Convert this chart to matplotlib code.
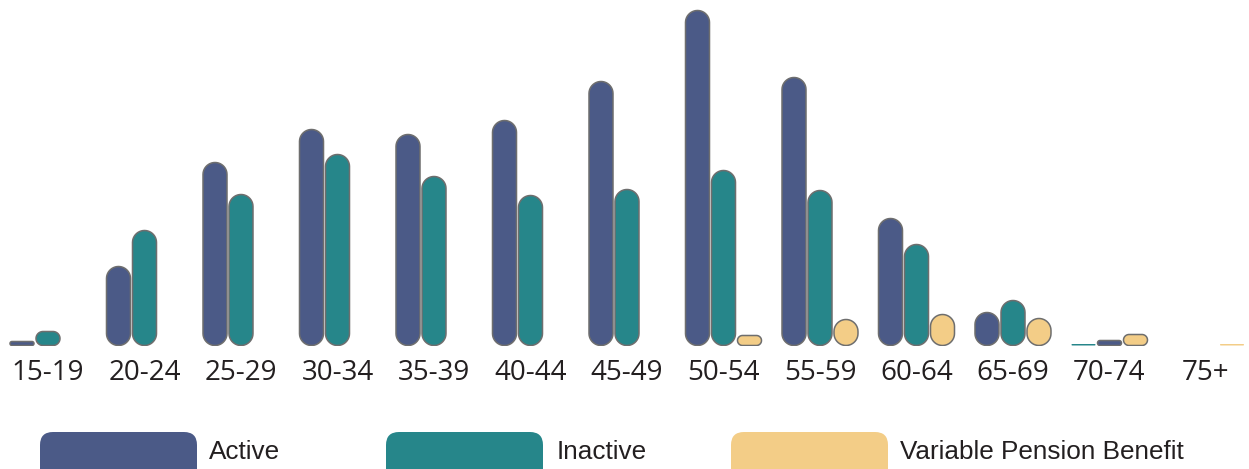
import numpy as np
import matplotlib.pyplot as plt
from matplotlib.patches import FancyBboxPatch, Polygon

# Members by age band
age_groups = ['15-19', '20-24', '25-29', '30-34', '35-39', '40-44', '45-49',
              '50-54', '55-59', '60-64', '65-69', '70-74', '75+']
active = [40, 790, 1830, 2160, 2110, 2250, 2640, 3350, 2680, 1270, 330, 50, 0]
inactive = [140, 1150, 1510, 1910, 1690, 1500, 1560, 1750, 1550, 1010, 450, 15, 0]
variable_pension = [0, 0, 0, 0, 0, 0, 0, 100, 260, 310, 270, 110, 15]

# slot of each bar inside its group (70-74 lists inactive first)
active_slot = [0] * 11 + [1, 0]
inactive_slot = [1] * 11 + [0, 1]
pension_slot = [2] * 13

series = [
    ('Active', active, active_slot, '#4b5a87'),
    ('Inactive', inactive, inactive_slot, '#26868a'),
    ('Variable Pension Benefit', variable_pension, pension_slot, '#f3cd87'),
]

W, H = 1249, 469
fig = plt.figure(figsize=(W / 100, H / 100), dpi=100)

# legend layer in pixel coordinates
lg = fig.add_axes([0, 0, 1, 1])
lg.set_xlim(0, W)
lg.set_ylim(H, 0)
lg.axis('off')
legend_x = [40, 386, 731]
text_x = [209, 557, 900]
for (name, _, _, color), px, tx in zip(series, legend_x, text_x):
    lg.add_patch(FancyBboxPatch((px, 432), 157, 50,
                                boxstyle="round,pad=0,rounding_size=13",
                                facecolor=color, edgecolor='none'))
    lg.text(tx, 452, name, fontsize=18.8, family='Liberation Sans',
            color='#231f20', va='center', ha='left')

# bar area
baseline_px = 345.5
ax = fig.add_axes([0, (H - baseline_px) / H, 1, baseline_px / H])
ax.set_facecolor('none')
step = 96.5
x0 = -48 / step
ax.set_xlim(x0, x0 + W / step)
ax.set_ylim(0, baseline_px * 10)
for s in ax.spines.values():
    s.set_visible(False)
ax.set_yticks([])
ax.set_xticks(range(len(age_groups)))
ax.set_xticklabels(age_groups, fontsize=20, family='Open Sans', color='#231f20')
ax.tick_params(axis='x', length=0, pad=10)

bar_w = 24 / step
offset = 26 / step
sx = step      # pixels per x unit
sy = 0.1       # pixels per value unit


def pill(xc, v):
    """Rounded bar outline in data units, true circular ends."""
    w_px, h_px = bar_w * sx, v * sy
    r = min(w_px, h_px) / 2
    t = np.linspace(0, np.pi / 2, 12)
    corners = [((w_px / 2 - r), (h_px - r), 0),
               (-(w_px / 2 - r), (h_px - r), np.pi / 2),
               (-(w_px / 2 - r), r, np.pi),
               ((w_px / 2 - r), r, 3 * np.pi / 2)]
    pts = []
    for cx, cy, a0 in corners:
        pts.append(np.column_stack([cx + r * np.cos(a0 + t),
                                    cy + r * np.sin(a0 + t)]))
    pts = np.vstack(pts)
    return np.column_stack([xc + pts[:, 0] / sx, pts[:, 1] / sy])


for name, values, slots, color in series:
    for i, (v, s) in enumerate(zip(values, slots)):
        if v <= 0:
            continue
        x = i + (s - 1) * offset
        edge = '#6e6e6e' if v * sy >= 3 else 'none'
        ax.add_patch(Polygon(pill(x, v), closed=True, facecolor=color,
                             edgecolor=edge, linewidth=1.1))

fig.savefig('out.png', dpi=100)
